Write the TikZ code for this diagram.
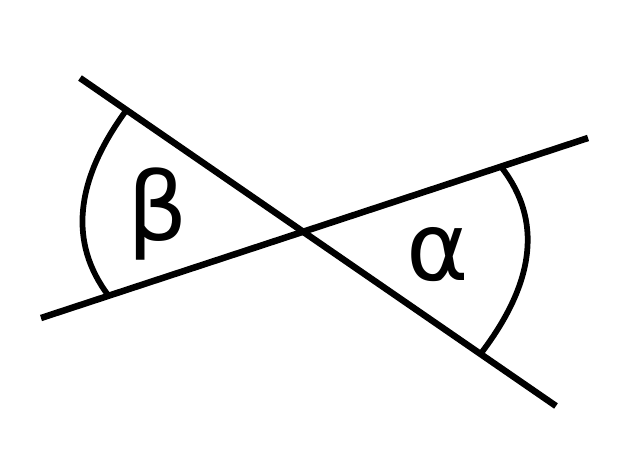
\documentclass[tikz,border=0pt]{standalone}
\usepackage{fontspec}
\setmainfont{DejaVu Sans}
\begin{document}
\begin{tikzpicture}[x=0.02cm,y=-0.02cm,
  ln/.style={line width=0.13cm, black},
  arcln/.style={line width=0.115cm, black},
  lbl/.style={inner sep=0pt, anchor=base, font=\fontsize{54}{60}\selectfont}]
\useasboundingbox (0,0) rectangle (628,470);
\coordinate (a1) at (80,78);
\coordinate (a2) at (556,406);
\coordinate (b1) at (41,318);
\coordinate (b2) at (588,138);
\coordinate (bt) at (125,112);
\coordinate (bb) at (108,295);
\coordinate (bc1) at (74.7,181.7);
\coordinate (bc2) at (69,242.7);
\coordinate (at) at (502,168);
\coordinate (ab) at (482,352);
\coordinate (ac1) at (542,220);
\coordinate (ac2) at (535.3,281.3);
\draw[ln] (a1) -- (a2);
\draw[ln] (b1) -- (b2);
\draw[arcln] (bt) .. controls (bc1) and (bc2) .. (bb);
\draw[arcln] (at) .. controls (ac1) and (ac2) .. (ab);
\node[lbl] (beta) at (158,240) {β};
\node[lbl] (alpha) at (438,280) {α};
\end{tikzpicture}
\end{document}
